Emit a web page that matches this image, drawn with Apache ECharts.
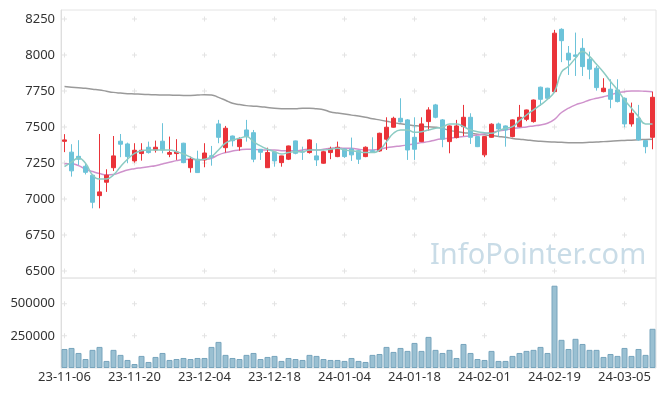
<!DOCTYPE html>
<html>
<head>
<meta charset="utf-8">
<script src="https://cdn.jsdelivr.net/npm/echarts@6/dist/echarts.min.js"></script>
<style>
html,body{margin:0;padding:0;background:#fff;}
#c{width:665px;height:396px;}
</style>
</head>
<body>
<div id="c"></div>
<script>
var dates = ['23-11-06','23-11-07','23-11-08','23-11-09','23-11-10','23-11-13','23-11-14','23-11-15','23-11-16','23-11-17',
'23-11-20','23-11-21','23-11-22','23-11-23','23-11-24','23-11-27','23-11-28','23-11-29','23-11-30','23-12-01',
'23-12-04','23-12-05','23-12-06','23-12-07','23-12-08','23-12-11','23-12-12','23-12-13','23-12-14','23-12-15',
'23-12-18','23-12-19','23-12-20','23-12-21','23-12-22','23-12-26','23-12-27','23-12-28','24-01-02','24-01-03',
'24-01-04','24-01-05','24-01-08','24-01-09','24-01-10','24-01-11','24-01-12','24-01-15','24-01-16','24-01-17',
'24-01-18','24-01-19','24-01-22','24-01-23','24-01-24','24-01-25','24-01-26','24-01-29','24-01-30','24-01-31',
'24-02-01','24-02-02','24-02-05','24-02-06','24-02-07','24-02-08','24-02-13','24-02-14','24-02-15','24-02-16',
'24-02-19','24-02-20','24-02-21','24-02-22','24-02-23','24-02-26','24-02-27','24-02-28','24-02-29','24-03-04',
'24-03-05','24-03-06','24-03-07','24-03-08','24-03-11'];

var opens  = [7400,7325,7296,7227,7165,7023,7116,7217,7401,7382,7264,7315,7359,7340,7401,7310,7315,7387,7217,7276,
7271,7300,7521,7356,7437,7363,7479,7460,7345,7217,7326,7252,7276,7403,7330,7322,7299,7248,7322,7294,
7347,7347,7335,7294,7335,7333,7415,7498,7560,7549,7428,7398,7537,7653,7549,7398,7426,7502,7567,7433,
7306,7428,7521,7507,7433,7502,7553,7537,7776,7769,7745,8178,8012,8000,8046,7970,7908,7745,7762,7757,
7699,7521,7560,7405,7428];
var closes = [7410,7195,7276,7185,6977,7049,7165,7299,7380,7294,7338,7338,7322,7359,7340,7322,7326,7252,7276,7183,
7319,7292,7428,7491,7404,7415,7433,7276,7324,7322,7264,7299,7368,7317,7325,7410,7271,7328,7347,7359,
7294,7306,7276,7359,7328,7456,7498,7560,7535,7340,7345,7521,7618,7567,7415,7507,7507,7567,7428,7363,
7433,7519,7486,7479,7549,7567,7618,7687,7692,7699,8151,8099,7965,7990,7919,7901,7773,7769,7692,7676,
7521,7595,7410,7363,7706];
var lows   = [7325,7155,7236,7170,6935,6935,7049,7194,7290,7248,7252,7266,7315,7322,7317,7290,7271,7248,7183,7180,
7220,7231,7387,7322,7365,7335,7398,7255,7271,7215,7224,7224,7270,7310,7271,7315,7229,7245,7276,7290,
7285,7264,7243,7290,7325,7328,7340,7495,7530,7271,7271,7395,7474,7560,7359,7317,7420,7437,7382,7360,
7290,7425,7433,7363,7428,7498,7540,7530,7646,7690,7740,7950,7861,7854,7854,7831,7752,7740,7630,7670,
7498,7502,7405,7317,7345];
var highs  = [7450,7380,7408,7250,7168,7451,7206,7437,7451,7391,7387,7387,7398,7405,7526,7433,7415,7390,7294,7335,
7387,7368,7549,7507,7440,7428,7549,7479,7345,7356,7328,7300,7370,7405,7363,7415,7387,7335,7363,7398,
7350,7426,7338,7365,7428,7460,7567,7571,7699,7555,7567,7567,7637,7660,7555,7510,7549,7653,7595,7435,
7436,7525,7530,7510,7552,7653,7620,7690,7780,7772,8174,8185,8062,8155,8116,8023,7924,7838,7831,7831,
7705,7669,7653,7410,7745];

var ma5  = [7224,7255,7285,7248,7167,7139,7139,7167,7224,7276,7317,7335,7340,7340,7340,7340,7328,7312,7290,7271,
7276,7294,7340,7387,7410,7421,7433,7398,7368,7345,7328,7312,7322,7328,7328,7340,7340,7340,7345,7352,
7340,7335,7328,7322,7322,7340,7398,7456,7479,7479,7463,7467,7479,7491,7498,7521,7521,7502,7479,7467,
7460,7456,7474,7491,7502,7544,7583,7618,7653,7692,7745,7880,7921,7977,8023,7990,7935,7880,7815,7757,
7687,7630,7572,7521,7521];
var ma20 = [7245,7245,7231,7206,7190,7176,7167,7170,7185,7201,7210,7217,7224,7231,7243,7255,7266,7274,7276,7271,
7274,7283,7306,7322,7333,7340,7345,7345,7340,7340,7340,7335,7335,7335,7340,7345,7340,7345,7352,7356,
7352,7352,7345,7340,7340,7345,7356,7363,7368,7375,7382,7391,7398,7410,7417,7421,7428,7433,7437,7444,
7452,7462,7471,7480,7488,7495,7500,7507,7514,7526,7553,7600,7630,7653,7669,7687,7699,7710,7722,7738,
7745,7750,7750,7747,7745];
var ma60 = [7780,7776,7772,7768,7762,7757,7748,7740,7735,7731,7729,7727,7725,7723,7722,7721,7720,7719,7719,7721,
7724,7722,7705,7685,7664,7655,7648,7644,7641,7635,7630,7627,7626,7627,7630,7630,7626,7620,7604,7596,
7590,7582,7576,7568,7557,7549,7540,7530,7522,7515,7509,7504,7501,7498,7490,7476,7468,7460,7456,7450,
7445,7440,7434,7428,7420,7414,7410,7404,7400,7397,7395,7393,7391,7391,7391,7393,7395,7398,7401,7404,
7406,7408,7411,7413,7415];

var volumes = [148000,156000,117000,70000,141000,164000,55000,141000,102000,62500,31000,94000,47000,86000,117000,62500,70000,78000,70000,78000,
78000,164000,203000,102000,78000,70000,102000,117000,70000,86000,94000,55000,78000,70000,62500,102000,94000,70000,62500,62500,
55000,78000,55000,47000,102000,109000,164000,125000,156000,133000,195000,133000,242000,141000,117000,141000,78000,187000,117000,70000,
62500,133000,55000,55000,94000,117000,133000,141000,164000,117000,640000,219000,148000,227000,187000,141000,141000,86000,109000,94000,
156000,94000,148000,102000,305000];

var priceTicks = [6500,6750,7000,7250,7500,7750,8000,8250];
var volumeTicks = [250000,500000];
var gridDateIdx = [0,10,20,30,40,50,60,70,80];

var candleData = dates.map(function(d,i){ return [opens[i], closes[i], lows[i], highs[i]]; });
var crossPrice = [], crossVol = [];
gridDateIdx.forEach(function(ix){
  priceTicks.forEach(function(v){ crossPrice.push([dates[ix], v]); });
  volumeTicks.forEach(function(v){ crossVol.push([dates[ix], v]); });
});

var FONT = 'Noto Sans';
var UP = '#ea3339', DOWN = '#6cc3d9';
var crossSym = 'path://M0,4H10V6H0Z M4,0H6V10H4Z';
var plain = function(v){ return String(v); };

var chart = echarts.init(document.getElementById('c'), null, {renderer:'canvas'});
chart.setOption({
  animation: false,
  textStyle: {fontFamily: FONT},
  grid: [
    {left: 61, width: 595, top: 10, height: 268, show: true, borderColor: '#e4e4e4', borderWidth: 1},
    {left: 61, width: 595, top: 278, height: 90, show: true, borderColor: '#e4e4e4', borderWidth: 1}
  ],
  xAxis: [
    {type:'category', gridIndex:0, data: dates, boundaryGap: true,
     axisLine:{show:false}, axisTick:{show:false}, axisLabel:{show:false}, splitLine:{show:false}},
    {type:'category', gridIndex:1, data: dates, boundaryGap: true,
     axisLine:{show:false}, axisTick:{show:false}, splitLine:{show:false},
     axisLabel:{interval: 9, color:'#333', fontSize: 13, margin: 3, fontFamily: FONT}}
  ],
  yAxis: [
    {type:'value', gridIndex:0, min: 6451, max: 8312, scale: true,
     axisLine:{show:true, lineStyle:{color:'#dedede'}}, axisTick:{show:false}, splitLine:{show:false},
     axisLabel:{customValues: priceTicks, formatter: plain, color:'#333', fontSize: 13, margin: 6, fontFamily: FONT}},
    {type:'value', gridIndex:1, min: 0, max: 700000,
     axisLine:{show:true, lineStyle:{color:'#dedede'}}, axisTick:{show:false}, splitLine:{show:false},
     axisLabel:{customValues: volumeTicks, formatter: plain, color:'#333', fontSize: 13, margin: 6, fontFamily: FONT}}
  ],
  graphic: [{
    type:'text', left: 430, top: 241, silent: true, z: 0,
    style:{text:'InfoPointer.com', fill:'#c9dce7', font: '29px "Noto Sans"'}
  }],
  series: [
    {type:'scatter', xAxisIndex:0, yAxisIndex:0, data: crossPrice, symbol: crossSym, symbolSize: 5,
     itemStyle:{color:'#dcdcdc'}, silent:true, z:1},
    {type:'scatter', xAxisIndex:1, yAxisIndex:1, data: crossVol, symbol: crossSym, symbolSize: 5,
     itemStyle:{color:'#dcdcdc'}, silent:true, z:1},
    {type:'line', name:'MA60', xAxisIndex:0, yAxisIndex:0, data: ma60, showSymbol:false, smooth:true,
     lineStyle:{color:'#9a9a9a', width:1.5}, z:3},
    {type:'line', name:'MA20', xAxisIndex:0, yAxisIndex:0, data: ma20, showSymbol:false, smooth:true,
     lineStyle:{color:'#cf92cc', width:1.5}, z:3},
    {type:'candlestick', xAxisIndex:0, yAxisIndex:0, data: candleData, barWidth: 5,
     itemStyle:{color: UP, color0: DOWN, borderColor: UP, borderColor0: DOWN, borderWidth: 1}, z:4},
    {type:'line', name:'MA5', xAxisIndex:0, yAxisIndex:0, data: ma5, showSymbol:false, smooth:true,
     lineStyle:{color:'#8ccbc3', width:1.5}, z:5},
    {type:'bar', xAxisIndex:1, yAxisIndex:1, data: volumes, barWidth: 6,
     itemStyle:{color:'#9ac0d2', borderColor:'#78a5bd', borderWidth:1}, z:3}
  ]
});
</script>
</body>
</html>
